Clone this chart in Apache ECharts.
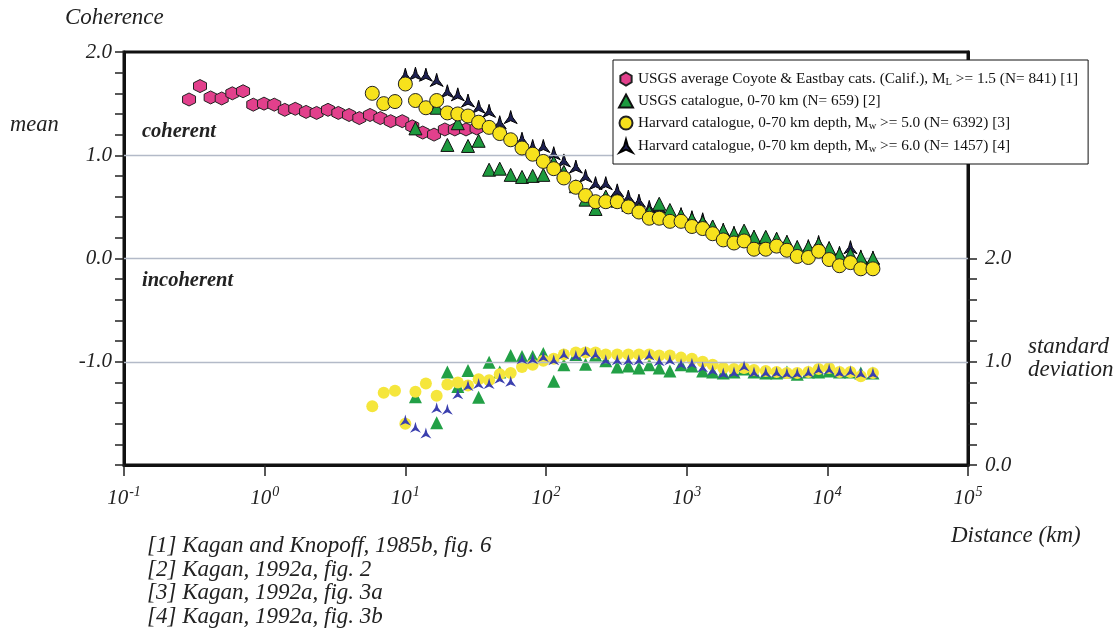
<!DOCTYPE html>
<html><head><meta charset="utf-8">
<script src="https://cdn.jsdelivr.net/npm/echarts@6/dist/echarts.min.js"></script>
<style>html,body{margin:0;padding:0;background:#fff}#c{width:1118px;height:628px}</style>
</head><body><div id="c"></div>
<script>
// ---- data (distance in km) ----
const distUsgsAvg = [0.290, 0.347, 0.413, 0.495, 0.589, 0.702, 0.830, 0.989, 1.17, 1.39, 1.65, 1.97, 2.34, 2.82, 3.34, 3.98, 4.71, 5.61, 6.64, 7.87, 9.51, 11.2, 13.3, 16.0, 19.1, 22.5, 27.0, 32.1];
const usgsAvgMean = [1.54, 1.67, 1.56, 1.55, 1.60, 1.62, 1.49, 1.50, 1.49, 1.44, 1.45, 1.42, 1.41, 1.44, 1.41, 1.39, 1.36, 1.39, 1.36, 1.33, 1.33, 1.28, 1.22, 1.20, 1.25, 1.25, 1.25, 1.26];

const distBins = [5.82, 7.02, 8.44, 10.0, 11.8, 14.0, 16.7, 19.9, 23.6, 27.9, 33.2, 39.4, 46.9, 56.1, 67.5, 80.4, 95.7, 113.5, 134, 163, 191, 225, 266, 321, 385, 458, 542, 638, 760, 912, 1090, 1300, 1530, 1820, 2170, 2560, 3010, 3650, 4360, 5160, 6110, 7330, 8670, 10300, 12200, 14600, 17300, 21100];

const usgsCatMean = [null, null, null, null, 1.26, null, 1.46, 1.10, 1.31, 1.09, 1.14, 0.86, 0.87, 0.81, 0.79, 0.80, 0.81, 0.93, 0.84, 0.70, 0.57, 0.48, 0.60, 0.56, 0.52, 0.48, 0.45, 0.53, 0.47, 0.42, 0.38, 0.35, 0.31, 0.27, 0.24, 0.27, 0.21, 0.21, 0.19, 0.16, 0.11, 0.11, 0.14, 0.10, 0.04, 0.04, 0.01, 0.00];
const usgsCatStd = [null, null, null, null, 0.66, null, 0.41, 0.90, 0.76, 0.915, 0.655, 0.995, 0.90, 1.06, 1.05, 1.05, 1.08, 0.81, 0.97, 1.07, 0.975, 1.065, 1.01, 0.95, 0.96, 0.94, 0.97, 0.94, 0.91, 0.97, 0.96, 0.91, 0.90, 0.89, 0.90, 0.93, 0.90, 0.89, 0.89, 0.90, 0.88, 0.90, 0.90, 0.91, 0.90, 0.90, 0.89, 0.89];

const harvard5Mean = [1.60, 1.50, 1.52, 1.69, 1.53, 1.46, 1.53, 1.41, 1.40, 1.38, 1.32, 1.27, 1.21, 1.15, 1.07, 1.01, 0.94, 0.87, 0.78, 0.69, 0.61, 0.55, 0.55, 0.55, 0.50, 0.45, 0.39, 0.39, 0.36, 0.36, 0.31, 0.29, 0.24, 0.18, 0.15, 0.17, 0.09, 0.09, 0.12, 0.08, 0.02, 0.01, 0.07, -0.01, -0.07, -0.04, -0.10, -0.10];
const harvard5Std = [0.57, 0.70, 0.72, 0.40, 0.71, 0.79, 0.67, 0.78, 0.80, 0.77, 0.83, 0.82, 0.88, 0.89, 0.95, 0.97, 1.01, 1.03, 1.07, 1.09, 1.09, 1.09, 1.07, 1.07, 1.07, 1.07, 1.07, 1.06, 1.06, 1.04, 1.03, 1.00, 0.97, 0.94, 0.93, 0.94, 0.92, 0.91, 0.90, 0.89, 0.89, 0.90, 0.93, 0.94, 0.90, 0.90, 0.86, 0.89];

const harvard6Mean = [null, null, null, 1.78, 1.79, 1.78, 1.73, 1.62, 1.59, 1.53, 1.47, 1.43, 1.32, 1.37, 1.16, 1.09, 1.09, 1.02, 0.95, 0.89, 0.80, 0.73, 0.73, 0.66, 0.60, 0.56, 0.50, 0.50, 0.45, 0.43, 0.40, 0.38, 0.31, 0.28, 0.25, 0.24, 0.21, 0.20, 0.19, 0.16, 0.11, 0.12, 0.16, 0.10, 0.055, 0.11, 0.02, 0.01];
const harvard6Std = [null, null, null, 0.435, 0.365, 0.31, 0.555, 0.54, 0.69, 0.77, 0.79, 0.79, 0.84, 0.81, 1.03, 1.03, 1.05, 1.02, 1.075, 1.06, 1.10, 1.075, 1.02, 1.02, 1.02, 1.02, 1.065, 1.01, 1.02, 0.98, 0.985, 0.95, 0.92, 0.89, 0.90, 0.96, 0.90, 0.90, 0.90, 0.89, 0.89, 0.90, 0.93, 0.93, 0.90, 0.91, 0.89, 0.89];

// ---- ticks & labels ----
const xTicks = [0.1, 1, 10, 100, 1000, 10000, 100000];
const meanTicks = [-2, -1.8, -1.6, -1.4, -1.2, -1, -0.8, -0.6, -0.4, -0.2, 0, 0.2, 0.4, 0.6, 0.8, 1, 1.2, 1.4, 1.6, 1.8, 2];
const meanLabels = [-1, 0, 1, 2];
const meanGrid = [1, 0, -1];
const sdTicks = [0, 0.2, 0.4, 0.6, 0.8, 1, 1.2, 1.4, 1.6, 1.8, 2];
const sdLabels = [0, 1, 2];

const seriesNames = ['usgsAvg', 'usgsCat', 'harvard5', 'harvard6'];
const legendLabels = [
  'USGS average Coyote & Eastbay cats. (Calif.), M{sub|L} >= 1.5 (N= 841) [1]',
  'USGS catalogue, 0-70 km (N= 659) [2]',
  'Harvard catalogue, 0-70 km depth, M{sub|w} >= 5.0 (N= 6392) [3]',
  'Harvard catalogue, 0-70 km depth, M{sub|w} >= 6.0 (N= 1457) [4]'
];
const footnotes = ['[1] Kagan and Knopoff, 1985b, fig. 6', '[2] Kagan, 1992a, fig. 2', '[3] Kagan, 1992a, fig. 3a', '[4] Kagan, 1992a, fig. 3b'];

function pairs(xs, ys) { return xs.map((x, i) => [x, ys[i]]).filter(p => p[1] != null); }

const SERIF = 'Liberation Serif';
const hexPath = 'path://M0,-10 L8.66,-5 L8.66,5 L0,10 L-8.66,5 L-8.66,-5 Z';
const arrowPath = 'path://M0,-10 L2.5,-1 L9,8 L0,4 L-9,8 L-2.5,-1 Z';

const chart = echarts.init(document.getElementById('c'), null, {renderer: 'canvas'});
const axisText = {fontFamily: SERIF, fontStyle: 'italic', fontSize: 21, color: '#222'};
function txt(x, y, text, size, bold) {
  return {type: 'text', x: x, y: y, z: 10, style: {text: text, fontFamily: SERIF, fontStyle: 'italic',
    fontWeight: bold ? 'bold' : 'normal', fontSize: size, fill: '#222', verticalAlign: 'middle'}};
}

chart.setOption({
  animation: false,
  backgroundColor: '#fff',
  grid: {left: 124, right: 150, top: 52, bottom: 163, show: true, borderColor: '#111', borderWidth: 3, backgroundColor: 'transparent'},
  legend: {
    show: true, orient: 'vertical', left: 613, top: 60,
    padding: [10, 10, 9, 5], itemGap: 5, itemWidth: 14, itemHeight: 13,
    backgroundColor: '#fff', borderColor: '#111', borderWidth: 1, z: 20,
    data: seriesNames,
    formatter: n => legendLabels[seriesNames.indexOf(n)],
    textStyle: {fontFamily: SERIF, fontSize: 15.3, color: '#111', lineHeight: 16,
      rich: {sub: {fontFamily: SERIF, fontSize: 10.5, color: '#111', lineHeight: 16, padding: [7, 0, 0, 0]}}}
  },
  xAxis: {
    type: 'log', logBase: 10, min: 0.1, max: 100000,
    axisLine: {show: true, onZero: false, lineStyle: {color: '#111', width: 3}},
    axisTick: {show: true, customValues: xTicks, length: 11, lineStyle: {color: '#222', width: 1.5}},
    axisLabel: {
      customValues: xTicks, margin: 20,
      formatter: v => '{b|10}{e|' + Math.round(Math.log10(v)) + '}',
      rich: {
        b: {fontFamily: SERIF, fontStyle: 'italic', fontSize: 21, color: '#222', lineHeight: 24, verticalAlign: 'bottom'},
        e: {fontFamily: SERIF, fontStyle: 'italic', fontSize: 14, color: '#222', lineHeight: 24, verticalAlign: 'top', padding: [0, 0, 11, 1]}
      }
    },
    splitLine: {show: false}
  },
  yAxis: [{
    type: 'value', min: -2, max: 2, position: 'left',
    axisLine: {show: true, onZero: false, lineStyle: {color: '#111', width: 3}},
    axisTick: {show: true, customValues: meanTicks, length: 9, lineStyle: {color: '#222', width: 1.5}},
    axisLabel: Object.assign({customValues: meanLabels, margin: 12, formatter: v => v.toFixed(1)}, axisText),
    splitLine: {show: false}
  }, {
    type: 'value', min: 0, max: 4, position: 'right',
    axisLine: {show: true, onZero: false, lineStyle: {color: '#111', width: 3}},
    axisTick: {show: true, customValues: sdTicks, length: 9, lineStyle: {color: '#222', width: 1.5}},
    axisLabel: Object.assign({customValues: sdLabels, margin: 17, formatter: v => v.toFixed(1)}, axisText),
    splitLine: {show: false}
  }],
  series: [
    {
      name: 'usgsAvg', type: 'scatter', yAxisIndex: 0, symbol: hexPath, symbolSize: 13,
      itemStyle: {color: '#e2408c', borderColor: '#222', borderWidth: 1, opacity: 1},
      data: pairs(distUsgsAvg, usgsAvgMean), z: 3,
      markLine: {silent: true, symbol: 'none', label: {show: false},
        lineStyle: {color: '#b3bac8', width: 1.3, type: 'solid'},
        data: meanGrid.map(v => ({yAxis: v}))}
    },
    {
      name: 'usgsCatStd', type: 'scatter', yAxisIndex: 1, symbol: 'triangle', symbolSize: 13,
      itemStyle: {color: '#22a046', opacity: 1}, data: pairs(distBins, usgsCatStd), z: 3
    },
    {
      name: 'harvard5Std', type: 'scatter', yAxisIndex: 1, symbol: 'circle', symbolSize: 12,
      itemStyle: {color: '#f5e63c', opacity: 1}, data: pairs(distBins, harvard5Std), z: 4
    },
    {
      name: 'harvard6Std', type: 'scatter', yAxisIndex: 1, symbol: arrowPath, symbolSize: 11,
      itemStyle: {color: '#3a3fae', opacity: 1}, data: pairs(distBins, harvard6Std), z: 5
    },
    {
      name: 'harvard6', type: 'scatter', yAxisIndex: 0, symbol: arrowPath, symbolSize: 13,
      itemStyle: {color: '#1e2152', borderColor: '#000', borderWidth: 1, opacity: 1},
      data: pairs(distBins, harvard6Mean), z: 4
    },
    {
      name: 'usgsCat', type: 'scatter', yAxisIndex: 0, symbol: 'triangle', symbolSize: 13,
      itemStyle: {color: '#1d9a3e', borderColor: '#111', borderWidth: 1, opacity: 1},
      data: pairs(distBins, usgsCatMean), z: 5
    },
    {
      name: 'harvard5', type: 'scatter', yAxisIndex: 0, symbol: 'circle', symbolSize: 14,
      itemStyle: {color: '#f7e21c', borderColor: '#222', borderWidth: 1, opacity: 1},
      data: pairs(distBins, harvard5Mean), z: 6
    }
  ],
  graphic: [
    txt(65, 18, 'Coherence', 23),
    txt(10, 125, 'mean', 22.5),
    txt(142, 132, 'coherent', 20.5, true),
    txt(142, 281, 'incoherent', 20.5, true),
    txt(1028, 347, 'standard', 23),
    txt(1028, 370, 'deviation', 23),
    txt(951, 536, 'Distance (km)', 23)
  ].concat(footnotes.map((t, i) => txt(147, 546 + i * 23.7, t, 23)))
});
</script>
</body></html>
